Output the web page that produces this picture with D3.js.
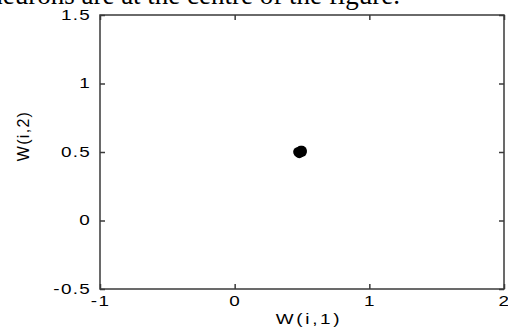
<!DOCTYPE html>
<html><head><meta charset="utf-8">
<script src="https://cdn.jsdelivr.net/npm/d3@7"></script>
<style>body{margin:0;background:#fff}svg{display:block}</style>
</head><body>
<svg id="c" width="508" height="329"></svg>
<script>
const xTicks = [-1, 0, 1, 2];
const xTickLabels = ["-1", "0", "1", "2"];
const yTicks = [-0.5, 0, 0.5, 1, 1.5];
const yTickLabels = ["-0.5", "0", "0.5", "1", "1.5"];
const wx = [0.47, 0.49, 0.50, 0.48, 0.49, 0.50];
const wy = [0.50, 0.51, 0.50, 0.49, 0.50, 0.51];
const xLabel = "W(i,1)";
const yLabel = "W(i,2)";
const caption = "neurons are at the centre of the figure.";

const svg = d3.select("#c");
const L = 100, R = 504, T = 15, B = 289;
const x = d3.scaleLinear().domain([-1, 2]).range([L, R]);
const y = d3.scaleLinear().domain([-0.5, 1.5]).range([B, T]);
const ink = "#3a3a3a";
const SX = 1.35;

svg.append("text").attr("x", 400).attr("y", 4).attr("text-anchor", "end")
  .attr("font-family", "Liberation Serif").attr("font-size", 27).attr("fill", "#000").text(caption);

const g = svg.append("g");
const ax = (sel) => sel.call(s => s.select(".domain").remove())
  .call(s => s.selectAll("line").attr("stroke", ink).attr("stroke-width", 1.5));
const lab = (s) => s.selectAll("text").attr("font-family", "Liberation Sans").attr("font-size", 14)
  .attr("fill", "#000").attr("letter-spacing", 1).attr("transform", `scale(${SX},1)`);

g.append("g").attr("transform", `translate(0,${B})`)
  .call(d3.axisBottom(x).tickValues(xTicks).tickSize(-5).tickPadding(7).tickFormat((d, i) => xTickLabels[i]))
  .call(ax).call(lab);
g.append("g").attr("transform", `translate(0,${T})`)
  .call(d3.axisTop(x).tickValues(xTicks).tickSize(-5).tickFormat(""))
  .call(ax);
g.append("g").attr("transform", `translate(${L},0)`)
  .call(d3.axisLeft(y).tickValues(yTicks).tickSize(-5).tickPadding(6.5).tickFormat((d, i) => yTickLabels[i]))
  .call(ax).call(lab);
g.append("g").attr("transform", `translate(${R},0)`)
  .call(d3.axisRight(y).tickValues(yTicks).tickSize(-5).tickFormat(""))
  .call(ax);

g.append("rect").attr("x", L).attr("y", T).attr("width", R - L).attr("height", B - T)
  .attr("fill", "none").attr("stroke", ink).attr("stroke-width", 1.5);

g.selectAll("circle.p").data(wx).enter().append("circle")
  .attr("cx", (d) => x(d)).attr("cy", (d, i) => y(wy[i])).attr("r", 4.8).attr("fill", "#000");

svg.append("text").attr("transform", `translate(309,324) scale(${SX},1)`).attr("text-anchor", "middle")
  .attr("font-family", "Liberation Sans").attr("font-size", 14).attr("letter-spacing", 2).attr("fill", "#000").text(xLabel);
svg.append("text").attr("transform", "translate(29,136) rotate(-90)").attr("text-anchor", "middle")
  .attr("font-family", "Liberation Sans").attr("font-size", 16).attr("letter-spacing", 1.3).attr("fill", "#000").text(yLabel);
</script>
</body></html>
